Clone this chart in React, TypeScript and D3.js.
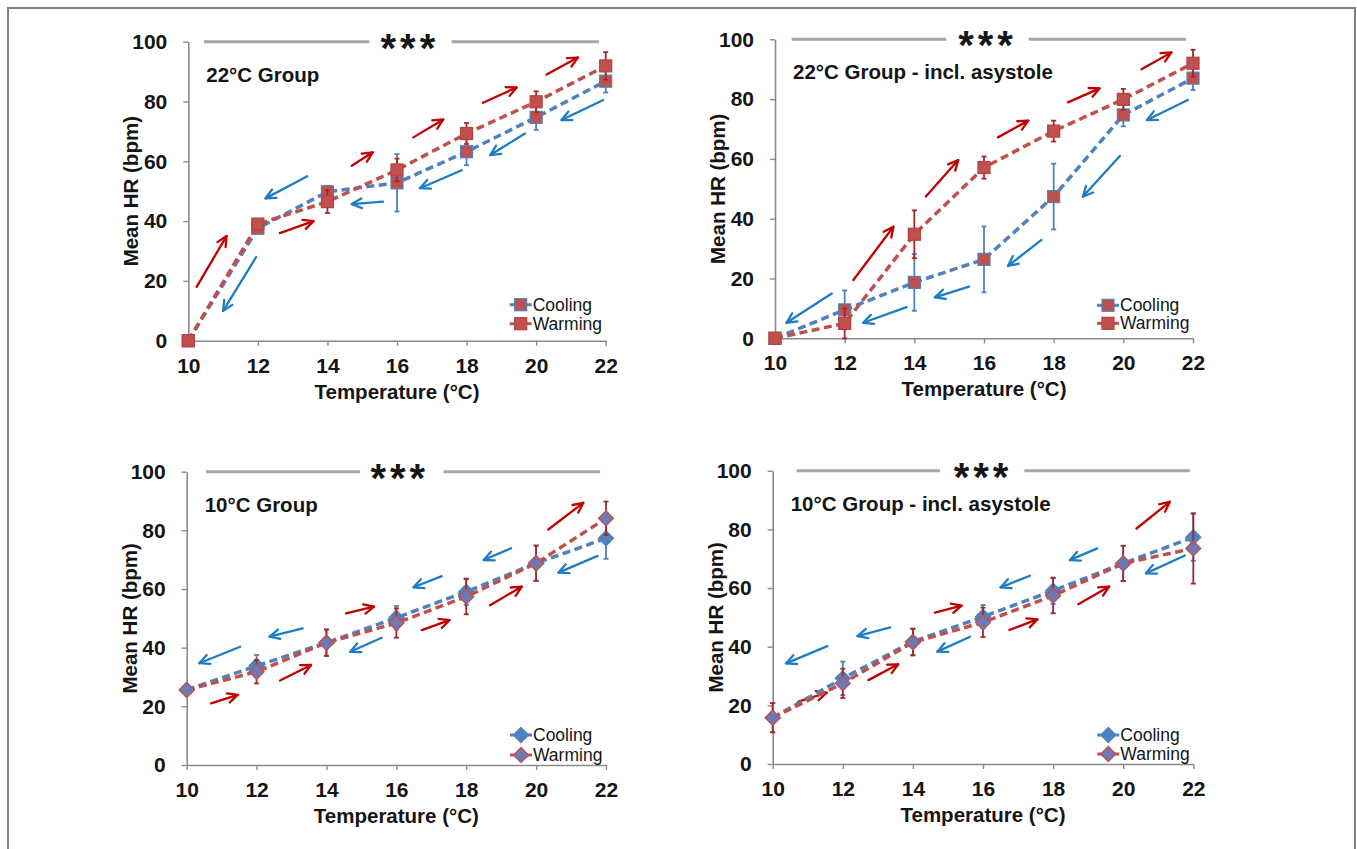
import React, { useEffect, useRef } from "react";
import { select, scaleLinear, axisBottom, axisLeft, line } from "d3";

const temps = [10, 12, 14, 16, 18, 20, 22];
const yTicks = [0, 20, 40, 60, 80, 100];

// 22°C group
const g22Cool = [0, 37.6, 49.8, 52.8, 63.2, 74.7, 86.8];
const g22CoolErr = [0, 1.5, 2, 9.6, 4.5, 4.2, 3.8];
const g22Warm = [0, 39, 46.5, 57.1, 69.3, 79.9, 91.9];
const g22WarmErr = [0, 1.5, 3.8, 3.8, 3.5, 3.5, 4.6];

// 22°C group - incl. asystole
const g22aCool = [0, 9.5, 18.7, 26.4, 47.4, 74.7, 87];
const g22aCoolErr = [0, 6.5, 9.5, 11, 11, 3.8, 4];
const g22aWarm = [0, 5, 34.8, 57.1, 69.3, 79.9, 92];
const g22aWarmErr = [0, 5, 8, 3.7, 3.5, 3.5, 4.5];

// 10°C group
const g10Cool = [25.6, 33.8, 41.7, 50.2, 59.1, 68.8, 77.3];
const g10CoolErr = [0, 3.7, 4.5, 4, 4.5, 6, 7];
const g10Warm = [25.6, 31.8, 41.7, 48.4, 57.4, 68.8, 84.1];
const g10WarmErr = [0, 4, 4.5, 5, 6, 6, 5.7];

// 10°C group - incl. asystole
const g10aCool = [15.8, 29.2, 41.7, 50.2, 59.1, 68.4, 77.3];
const g10aCoolErr = [5, 5.7, 4.5, 4, 4.5, 6, 8];
const g10aWarm = [15.8, 27.5, 41.5, 48.3, 57.4, 68.4, 73.5];
const g10aWarmErr = [5, 5, 4.5, 5, 6, 6, 12];

// direction arrows [tempFrom, bpmFrom, tempTo, bpmTo]
const g22Red = [[10.24, 18, 11.1, 35], [12.63, 36, 13.6, 40], [14.7, 58.5, 15.3, 63], [16.47, 68, 17.33, 74], [18.47, 79.6, 19.44, 84.7], [20.3, 89, 21.2, 94.7]];
const g22Blue = [[11.95, 28, 11.0, 10], [13.42, 55, 12.22, 47.6], [15.6, 46.5, 14.7, 45.7], [17.86, 57, 16.66, 51], [19.68, 69.3, 18.68, 62.1], [21.93, 80.5, 20.73, 73.8]];
const g22aRed = [[12.25, 19.5, 13.4, 37.3], [14.33, 47.4, 15.26, 59.6], [16.4, 67.2, 17.27, 72.8], [18.41, 78.9, 19.32, 83.6], [20.52, 90, 21.38, 95.6]];
const g22aBlue = [[11.63, 15, 10.33, 5.2], [13.78, 10.4, 12.53, 5.2], [15.57, 17.3, 14.59, 13.7], [17.65, 32.9, 16.69, 24.2], [19.9, 61, 18.84, 47.4], [21.85, 79.7, 20.68, 73]];
const g10Red = [[10.7, 21, 11.46, 23.9], [12.67, 28.8, 13.56, 34.1], [14.56, 51.7, 15.36, 54], [16.73, 46, 17.52, 49.4], [18.68, 54.5, 19.59, 60.8], [20.35, 80.3, 21.35, 89.4]];
const g10Blue = [[11.53, 40.3, 10.36, 34.7], [13.32, 46.6, 12.37, 43.8], [15.58, 43.4, 14.68, 38.6], [17.3, 64.4, 16.49, 60.6], [19.28, 73.9, 18.5, 69.9], [21.76, 71.3, 20.64, 65.6]];
const g10aRed = [[10.73, 21.3, 11.54, 24.3], [12.73, 28.6, 13.58, 34], [14.63, 51.6, 15.39, 54], [16.75, 45.7, 17.55, 49.3], [18.72, 54.5, 19.6, 60.5], [20.38, 80.3, 21.33, 89.4]];
const g10aBlue = [[11.56, 40.2, 10.38, 34.3], [13.35, 46.6, 12.42, 43.6], [15.63, 43.4, 14.7, 38.3], [17.34, 64.2, 16.5, 60.2], [19.26, 73.5, 18.48, 69.5], [21.76, 71.1, 20.65, 65]];

// significance bar: [line1 start, line1 end, line2 start, line2 end, stars]
const g22Sig = [10.45, 15.2, 17.57, 21.81, 16.37];
const g22aSig = [10.48, 14.92, 17.28, 21.8, 16.1];
const g10Sig = [10.55, 14.96, 17.35, 21.83, 16.1];
const g10aSig = [10.68, 14.77, 17.18, 21.9, 16.0];

const titles = ["22°C Group", "22°C Group - incl. asystole", "10°C Group", "10°C Group - incl. asystole"];

const BLUE = "#4F81BD";
const RED = "#C0504D";
const ERR_RED = "#A3282A";
const ARROW_RED = "#C00000";
const ARROW_BLUE = "#1E7DC2";
const FONT = "'Liberation Sans', Arial, sans-serif";

const panels = [
  { title: titles[0], cool: g22Cool, coolErr: g22CoolErr, warm: g22Warm, warmErr: g22WarmErr, shape: "square", red: g22Red, blue: g22Blue, sig: g22Sig },
  { title: titles[1], cool: g22aCool, coolErr: g22aCoolErr, warm: g22aWarm, warmErr: g22aWarmErr, shape: "square", red: g22aRed, blue: g22aBlue, sig: g22aSig },
  { title: titles[2], cool: g10Cool, coolErr: g10CoolErr, warm: g10Warm, warmErr: g10WarmErr, shape: "diamond", red: g10Red, blue: g10Blue, sig: g10Sig },
  { title: titles[3], cool: g10aCool, coolErr: g10aCoolErr, warm: g10aWarm, warmErr: g10aWarmErr, shape: "diamond", red: g10aRed, blue: g10aBlue, sig: g10aSig },
];

const layouts = [
  { left: 188.3, right: 605.7, top: 41.7, bottom: 340.7, leg: [-36, -17] },
  { left: 775, right: 1193, top: 39.3, bottom: 338.3, leg: [-33, -15] },
  { left: 186.7, right: 606, top: 471.7, bottom: 765, leg: [-30, -10] },
  { left: 772.7, right: 1193.3, top: 470.7, bottom: 764, leg: [-29, -10] },
];

const Marker = ({ x, y, shape, fill, stroke }) => {
  if (shape === "square") {
    return <rect x={x - 6} y={y - 6} width={12} height={12} fill={fill} stroke={stroke} strokeWidth={1.2} />;
  }
  const r = 7.5;
  return <path d={`M${x},${y - r}L${x + r},${y}L${x},${y + r}L${x - r},${y}Z`} fill={fill} stroke={stroke} strokeWidth={1.3} />;
};

const Arrow = ({ x1, y1, x2, y2, color }) => {
  const a = Math.atan2(y2 - y1, x2 - x1);
  const len = 11;
  const h1 = [x2 - len * Math.cos(a - 0.45), y2 - len * Math.sin(a - 0.45)];
  const h2 = [x2 - len * Math.cos(a + 0.45), y2 - len * Math.sin(a + 0.45)];
  return (
    <g stroke={color} strokeWidth={2.3} fill="none" strokeLinecap="round" strokeLinejoin="round">
      <line x1={x1} y1={y1} x2={x2} y2={y2} />
      <path d={`M${h1[0]},${h1[1]}L${x2},${y2}L${h2[0]},${h2[1]}`} />
    </g>
  );
};

const Panel = ({ p, lay }) => {
  const xRef = useRef(null);
  const yRef = useRef(null);
  const x = scaleLinear().domain([10, 22]).range([lay.left, lay.right]);
  const y = scaleLinear().domain([0, 100]).range([lay.bottom, lay.top]);

  useEffect(() => {
    const styleAxis = (g) => {
      g.select(".domain").attr("stroke", "#8A8A8A").attr("stroke-width", 1.6);
      g.selectAll(".tick line").attr("stroke", "#8A8A8A").attr("stroke-width", 1.4);
      g.selectAll(".tick text")
        .attr("fill", "#151515")
        .style("font-family", FONT)
        .style("font-size", "21px")
        .style("font-weight", "bold");
    };
    select(xRef.current)
      .call(axisBottom(x).tickValues(temps).tickSize(5).tickSizeOuter(0).tickPadding(12).tickFormat((d) => String(d)))
      .call(styleAxis);
    select(yRef.current)
      .call(axisLeft(y).tickValues(yTicks).tickSize(5).tickSizeOuter(0).tickPadding(16).tickFormat((d) => String(d)))
      .call(styleAxis);
  }, [p, lay]);

  const mk = line().x((d) => x(d[0])).y((d) => y(d[1]));
  const coolPts = temps.map((t, i) => [t, p.cool[i]]);
  const warmPts = temps.map((t, i) => [t, p.warm[i]]);
  const sq = p.shape === "square";
  const coolFill = sq ? RED : BLUE;
  const coolStroke = BLUE;
  const warmFill = sq ? RED : "#6F78B4";
  const warmStroke = sq ? "#B8403D" : RED;

  const series = [
    { pts: coolPts, err: p.coolErr, color: BLUE, errColor: BLUE, fill: coolFill, stroke: coolStroke },
    { pts: warmPts, err: p.warmErr, color: RED, errColor: ERR_RED, fill: warmFill, stroke: warmStroke },
  ];

  const midY = (lay.top + lay.bottom) / 2;
  const midX = (lay.left + lay.right) / 2;
  const legX = lay.right - 96;

  return (
    <g>
      {/* significance bar */}
      <g stroke="#A6A6A6" strokeWidth={3}>
        <line x1={x(p.sig[0])} x2={x(p.sig[1])} y1={y(100)} y2={y(100)} />
        <line x1={x(p.sig[2])} x2={x(p.sig[3])} y1={y(100)} y2={y(100)} />
      </g>
      <text x={x(p.sig[4])} y={y(100) + 20} textAnchor="middle" fontFamily={FONT} fontWeight="bold" fontSize={40} letterSpacing={4} fill="#151515">
        ***
      </text>
      <g ref={yRef} transform={`translate(${lay.left},0)`} />
      <g ref={xRef} transform={`translate(0,${lay.bottom})`} />
      <text x={lay.left + 18} y={lay.top + 40} fontFamily={FONT} fontWeight="bold" fontSize={20.5} fill="#151515">
        {p.title}
      </text>
      <text x={midX} y={lay.bottom + 58} textAnchor="middle" fontFamily={FONT} fontWeight="bold" fontSize={20.5} fill="#151515">
        Temperature (°C)
      </text>
      <text transform={`translate(${lay.left - 50},${midY}) rotate(-90)`} textAnchor="middle" fontFamily={FONT} fontWeight="bold" fontSize={20.5} fill="#151515">
        Mean HR (bpm)
      </text>

      {/* arrows */}
      {p.red.map((a, i) => (
        <Arrow key={"r" + i} x1={x(a[0])} y1={y(a[1])} x2={x(a[2])} y2={y(a[3])} color={ARROW_RED} />
      ))}
      {p.blue.map((a, i) => (
        <Arrow key={"b" + i} x1={x(a[0])} y1={y(a[1])} x2={x(a[2])} y2={y(a[3])} color={ARROW_BLUE} />
      ))}

      {series.map((s, si) => (
        <g key={si}>
          <path d={mk(s.pts)} fill="none" stroke={s.color} strokeWidth={3.5} strokeDasharray="8,4.5" />
          {s.pts.map((d, i) =>
            s.err[i] > 0 ? (
              <g key={i} stroke={s.errColor} strokeWidth={1.8}>
                <line x1={x(d[0])} x2={x(d[0])} y1={y(d[1] - s.err[i])} y2={y(d[1] + s.err[i])} />
                <line x1={x(d[0]) - 2.5} x2={x(d[0]) + 2.5} y1={y(d[1] - s.err[i])} y2={y(d[1] - s.err[i])} />
                <line x1={x(d[0]) - 2.5} x2={x(d[0]) + 2.5} y1={y(d[1] + s.err[i])} y2={y(d[1] + s.err[i])} />
              </g>
            ) : null
          )}
          {s.pts.map((d, i) => (
            <Marker key={"m" + i} x={x(d[0])} y={y(d[1])} shape={p.shape} fill={s.fill} stroke={s.stroke} />
          ))}
        </g>
      ))}

      {/* legend */}
      {series.map((s, si) => {
        const ly = lay.bottom + lay.leg[si];
        return (
          <g key={"l" + si}>
            <line x1={legX} x2={legX + 22} y1={ly} y2={ly} stroke={s.color} strokeWidth={3} />
            <Marker x={legX + 11} y={ly} shape={p.shape} fill={s.fill} stroke={s.stroke} />
            <text x={legX + 23} y={ly + 6} fontFamily={FONT} fontSize={17.5} fill="#151515">
              {si === 0 ? "Cooling" : "Warming"}
            </text>
          </g>
        );
      })}
    </g>
  );
}

export default function App() {
  return (
    <div style={{ position: "absolute", left: 0, top: 0 }}>
      <svg width={1357} height={849} style={{ display: "block", background: "#fff" }}>
        <rect x={8} y={8} width={1347} height={860} fill="none" stroke="#808080" strokeWidth={2} />
        {panels.map((p, i) => (
          <Panel key={i} p={p} lay={layouts[i]} />
        ))}
      </svg>
    </div>
  );
}
